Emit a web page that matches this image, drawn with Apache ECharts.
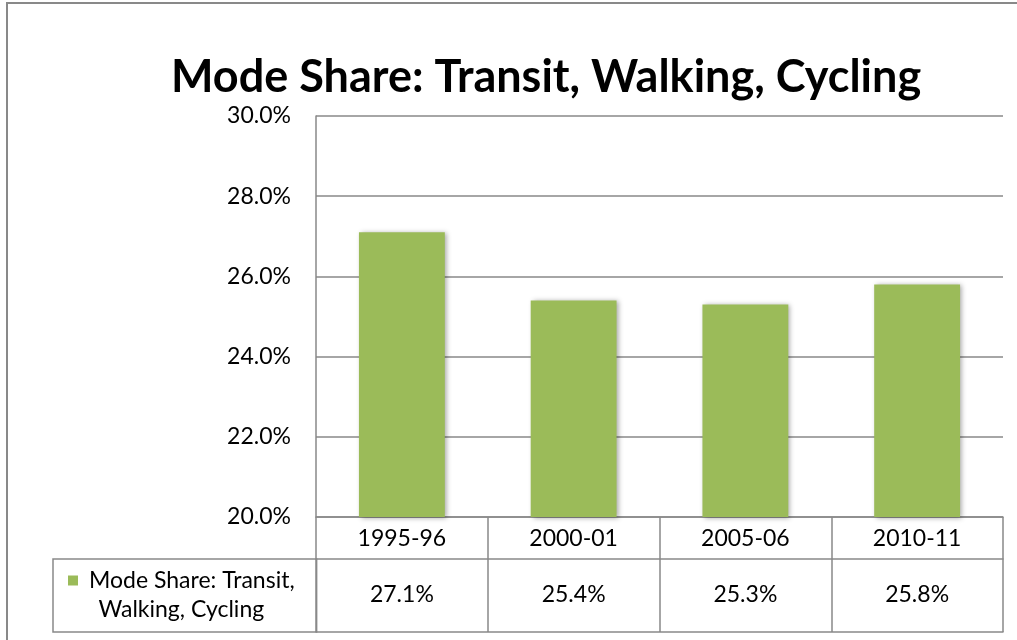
<!DOCTYPE html>
<html>
<head>
<meta charset="utf-8">
<script src="https://cdn.jsdelivr.net/npm/echarts@6/dist/echarts.min.js"></script>
<style>
  html, body { margin: 0; padding: 0; background: #fff; }
  #chart { width: 1017px; height: 640px; }
</style>
</head>
<body>
<div id="chart"></div>
<script>
const categories = ["1995-96", "2000-01", "2005-06", "2010-11"];
const seriesName = "Mode Share: Transit, Walking, Cycling";
const shareValues = [27.1, 25.4, 25.3, 25.8];
const yTicks = [20, 22, 24, 26, 28, 30];

const barColor = "#9BBB59";
const lineColor = "#898989";
const font = "Lato";
const fs = 23;

const myChart = echarts.init(document.getElementById("chart"));

// 表格线：用坐标轴的刻度和轴线拼出来
const option = {
  animation: false,
  title: {
    text: "Mode Share: Transit, Walking, Cycling",
    left: 166,
    top: 50,
    textStyle: { fontFamily: font, fontWeight: "bold", fontSize: 45, color: "#000" }
  },
  graphic: [{
    type: "rect",
    shape: { x: 7, y: 3, width: 1030, height: 700 },
    style: { fill: "none", stroke: lineColor, lineWidth: 2 },
    silent: true
  }],
  legend: {
    left: 53,
    top: 559,
    selectedMode: false,
    itemWidth: 0,
    itemHeight: 0,
    itemGap: 0,
    padding: [7, 22, 8, 10],
    borderColor: lineColor,
    borderWidth: 1.5,
    data: [seriesName],
    formatter: function() {
      return "{sq| }{a|Mode Share: Transit,}\n{b|Walking, Cycling}";
    },
    textStyle: {
      fontFamily: font,
      fontSize: fs,
      color: "#000",
      lineHeight: 29,
      rich: {
        sq: { backgroundColor: barColor, width: 10, height: 10, fontSize: 10, lineHeight: 29 },
        a: { fontFamily: font, fontSize: fs, lineHeight: 29, color: "#000", padding: [0, 0, 0, 11] },
        b: { fontFamily: font, fontSize: fs, lineHeight: 29, color: "#000", align: "center" }
      }
    }
  },
  grid: { left: 316, right: 14, top: 116, bottom: 123, containLabel: false },
  xAxis: [{
    type: "category",
    data: categories,
    position: "bottom",
    axisLine: { show: true, lineStyle: { color: lineColor, width: 1.5 } },
    axisTick: { show: true, length: 115, interval: 0, lineStyle: { color: lineColor, width: 1.5 } },
    axisLabel: { margin: 10, interval: 0, fontFamily: font, fontSize: fs, color: "#000" }
  }, {
    type: "category",
    data: categories,
    position: "bottom",
    offset: 42,
    axisLine: { show: true, lineStyle: { color: lineColor, width: 1.5 } },
    axisTick: { show: false },
    axisLabel: {
      margin: 24,
      interval: 0,
      fontFamily: font,
      fontSize: fs,
      color: "#000",
      formatter: (v, i) => shareValues[i].toFixed(1) + "%"
    }
  }, {
    type: "category",
    data: categories,
    position: "bottom",
    offset: 115,
    axisLine: { show: true, lineStyle: { color: lineColor, width: 1.5 } },
    axisTick: { show: false },
    axisLabel: { show: false }
  }],
  yAxis: {
    type: "value",
    min: yTicks[0],
    max: yTicks[yTicks.length - 1],
    interval: 2,
    axisLine: { show: true, lineStyle: { color: lineColor, width: 1.5 } },
    axisTick: { show: false },
    axisLabel: {
      margin: 25,
      fontFamily: font,
      fontSize: fs,
      color: "#000",
      formatter: v => v.toFixed(1) + "%"
    },
    splitLine: { show: true, lineStyle: { color: lineColor, width: 1.5 } }
  },
  series: [{
    name: seriesName,
    type: "bar",
    xAxisIndex: 0,
    data: shareValues,
    barCategoryGap: "50%",
    itemStyle: {
      color: barColor,
      shadowColor: "rgba(0,0,0,0.35)",
      shadowBlur: 5,
      shadowOffsetX: 2,
      shadowOffsetY: 1
    }
  }]
};

myChart.setOption(option);
</script>
</body>
</html>
